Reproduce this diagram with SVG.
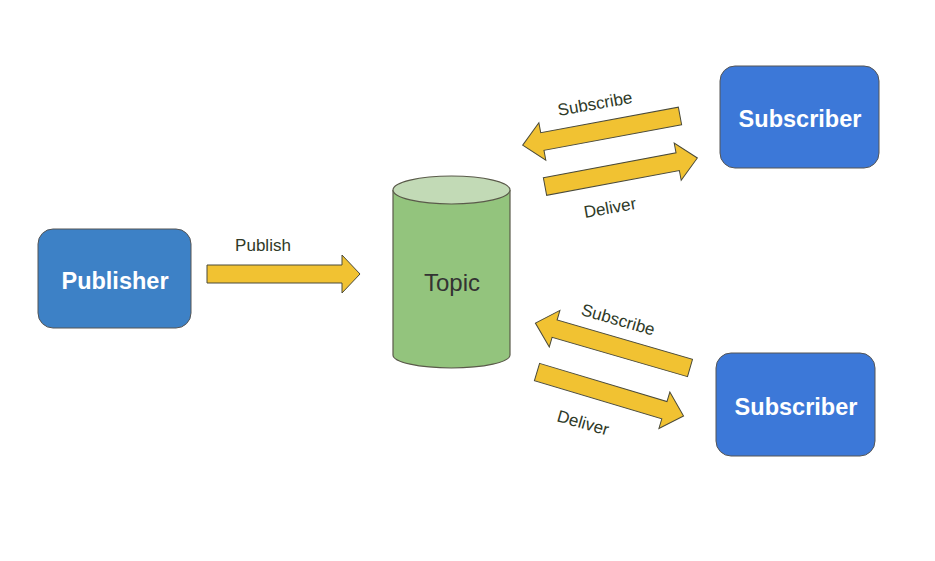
<svg xmlns="http://www.w3.org/2000/svg" width="935" height="561" viewBox="0 0 935 561">
<style>
.box{stroke:#555;stroke-width:1}
.pub{fill:#3d81c6}
.sub{fill:#3c78d8}
.bt{font-family:"Liberation Sans",Arial,sans-serif;font-weight:bold;font-size:23.5px;fill:#fff;text-anchor:middle;dominant-baseline:central}
.arr{fill:#f1c232;stroke:#4a4a3a;stroke-width:1}
.lbl{font-family:"Liberation Sans",Arial,sans-serif;font-size:17px;fill:#2f3a28;text-anchor:middle;dominant-baseline:central}
</style>
<rect width="935" height="561" fill="#fff"/>
<g id="publisher">
<rect class="box pub" x="38" y="229" width="153" height="99" rx="15"/>
<text class="bt" x="115" y="280.5">Publisher</text>
</g>
<g id="topic">
<path d="M393,190 L393,355 A58.5,13 0 0 0 510,355 L510,190" fill="#93c47d" stroke="#5a5a4a" stroke-width="1.2"/>
<ellipse cx="451.5" cy="190" rx="58.5" ry="14" fill="#c2dab6" stroke="#5a5a4a" stroke-width="1.2"/>
<text x="452" y="282" font-family="'Liberation Sans',Arial,sans-serif" font-size="24" fill="#333" text-anchor="middle" dominant-baseline="central">Topic</text>
</g>
<g id="subscriber1">
<rect class="box sub" x="720" y="66" width="159" height="102" rx="15"/>
<text class="bt" x="800" y="118.5">Subscriber</text>
</g>
<g id="subscriber2">
<rect class="box sub" x="716" y="353" width="159" height="103" rx="15"/>
<text class="bt" x="796" y="406.5">Subscriber</text>
</g>
<g id="connectors">
<path class="arr" d="M207,265 L342,265 L342,255 L360,274 L342,293 L342,283 L207,283 Z"/>
<text class="lbl" x="263" y="245">Publish</text>
<path class="arr" transform="translate(680,116) rotate(169.5)" d="M0,-9 L140,-9 L140,-19 L160,0 L140,19 L140,9 L0,9 Z"/>
<text class="lbl" transform="translate(595,104) rotate(-10)">Subscribe</text>
<path class="arr" transform="translate(545,186.5) rotate(-10.6)" d="M0,-9 L135,-9 L135,-19 L155,0 L135,19 L135,9 L0,9 Z"/>
<text class="lbl" transform="translate(610,208) rotate(-10)">Deliver</text>
<path class="arr" transform="translate(690,368) rotate(196.2)" d="M0,-9 L141,-9 L141,-19 L161,0 L141,19 L141,9 L0,9 Z"/>
<text class="lbl" transform="translate(618,320) rotate(16)">Subscribe</text>
<path class="arr" transform="translate(537,372) rotate(16.7)" d="M0,-9 L133,-9 L133,-19 L153,0 L133,19 L133,9 L0,9 Z"/>
<text class="lbl" transform="translate(583,423) rotate(16)">Deliver</text>
</g>
</svg>
